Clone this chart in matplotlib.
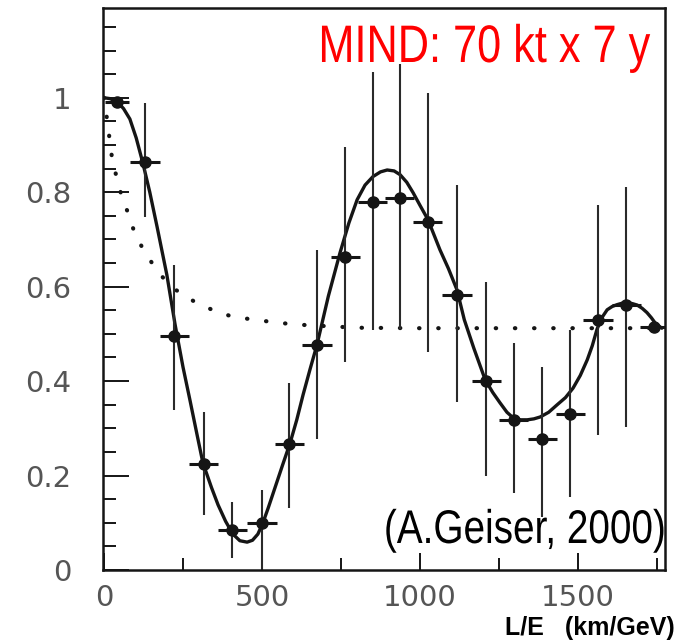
import matplotlib
matplotlib.use("Agg")
import matplotlib.pyplot as plt
from matplotlib import patheffects
from matplotlib.transforms import Affine2D
from matplotlib.ticker import MultipleLocator

# ---- data ----
x_data = [40, 130, 222, 316, 406, 500, 587, 674, 763, 851, 936, 1025, 1117, 1209,
          1297, 1386, 1475, 1563, 1652, 1741]
y_data = [0.99, 0.864, 0.496, 0.225, 0.085, 0.10, 0.267, 0.477, 0.663, 0.78, 0.788,
          0.737, 0.583, 0.40, 0.318, 0.278, 0.33, 0.53, 0.561, 0.515]
x_err = [38, 46, 46, 46, 46, 46, 46, 46, 46, 46, 46, 46, 46, 46, 46, 46, 46, 46, 46, 46]
y_err_hi = [0.01, 0.125, 0.15, 0.11, 0.06, 0.07, 0.13, 0.2, 0.233, 0.275, 0.284, 0.274,
            0.233, 0.21, 0.163, 0.152, 0.178, 0.243, 0.25, 0.0]
y_err_lo = [0.01, 0.116, 0.157, 0.108, 0.06, 0.10, 0.136, 0.2, 0.223, 0.272, 0.278, 0.275,
            0.227, 0.2, 0.155, 0.166, 0.175, 0.244, 0.258, 0.0]

curve_x = [0, 20, 44, 62, 82, 102, 123, 145, 168, 199, 225, 250, 272, 295, 313, 340,
           361, 385, 408, 430, 453, 470, 487, 503, 520, 541, 565, 589, 610, 630, 652,
           674, 710, 747, 775, 801, 826, 851, 875, 896, 918, 937, 958, 978, 1000, 1025,
           1063, 1090, 1117, 1140, 1170, 1206, 1230, 1253, 1275, 1295, 1318, 1339, 1360,
           1380, 1407, 1434, 1460, 1484, 1507, 1529, 1545, 1560, 1576, 1592, 1608, 1624,
           1640, 1655, 1672, 1687, 1703, 1718, 1732, 1745, 1765]
curve_y = [1.0, 0.998, 0.99, 0.977, 0.955, 0.915, 0.862, 0.80, 0.727, 0.625, 0.52, 0.43,
           0.36, 0.285, 0.227, 0.175, 0.138, 0.103, 0.076, 0.062, 0.059, 0.063, 0.076,
           0.1, 0.132, 0.174, 0.222, 0.269, 0.318, 0.371, 0.425, 0.477, 0.58, 0.672,
           0.735, 0.784, 0.815, 0.833, 0.843, 0.847, 0.845, 0.837, 0.821, 0.799, 0.772,
           0.742, 0.678, 0.638, 0.593, 0.53, 0.47, 0.403, 0.376, 0.354, 0.334, 0.322,
           0.318, 0.318, 0.32, 0.324, 0.334, 0.35, 0.365, 0.385, 0.412, 0.445, 0.475,
           0.51, 0.535, 0.551, 0.558, 0.562, 0.565, 0.566, 0.564, 0.561, 0.554, 0.545,
           0.534, 0.522, 0.512]

avg_x = [0, 9, 25, 38, 53, 76, 93, 120, 152, 187, 230, 282, 342, 399, 472, 600, 800,
         1000, 1765]
avg_y = [1.0, 0.958, 0.875, 0.837, 0.799, 0.756, 0.722, 0.684, 0.65, 0.619, 0.592, 0.57,
         0.551, 0.538, 0.53, 0.52, 0.513, 0.512, 0.512]

x_ticks = [0, 500, 1000, 1500]
y_ticks = [0, 0.2, 0.4, 0.6, 0.8, 1]
y_tick_labels = ["0", "0.2", "0.4", "0.6", "0.8", "1"]


class Condense(patheffects.AbstractPathEffect):
    """Squeeze text glyphs horizontally around a fixed anchor (display px)."""

    def __init__(self, sx, anchor_px):
        super().__init__()
        self.sx = sx
        self.anchor = anchor_px

    def draw_path(self, renderer, gc, tpath, affine, rgbFace=None):
        squeeze = (Affine2D().translate(-self.anchor, 0)
                   .scale(self.sx, 1).translate(self.anchor, 0))
        renderer.draw_path(gc, tpath, affine + squeeze, rgbFace)


W, H = 676, 640
fig = plt.figure(figsize=(W / 100, H / 100), dpi=100)
ax = fig.add_axes([103 / W, 1 - 570 / H, (665 - 103) / W, (570 - 8) / H])

ink = "#151515"
ax.plot(avg_x, avg_y, linestyle=(0, (0.1, 4.5)), linewidth=3.0,
        dash_capstyle="round", color=ink)
ax.plot(curve_x, curve_y, color=ink, linewidth=2.4, solid_capstyle="round")
ax.errorbar(x_data, y_data, yerr=[y_err_lo, y_err_hi], fmt="none",
            ecolor="#2a2a2a", elinewidth=1.5, capsize=0)
ax.errorbar(x_data, y_data, xerr=x_err, fmt="o", color=ink, ecolor=ink,
            elinewidth=2.2, capsize=0, markersize=8)

ax.set_xlim(-3, 1775)
ax.set_ylim(0, 1.19)
ax.set_xticks(x_ticks)
ax.set_yticks(y_ticks)
ax.set_yticklabels(y_tick_labels)
ax.xaxis.set_minor_locator(MultipleLocator(250))
ax.yaxis.set_minor_locator(MultipleLocator(0.05))
ax.tick_params(axis="both", which="both", direction="in", colors=ink,
               labelcolor="#555555", labelsize=21)
ax.tick_params(axis="y", which="major", length=19, width=1.4, pad=23)
ax.tick_params(axis="y", which="minor", length=9, width=1.4)
ax.tick_params(axis="x", which="major", length=12, width=1.4, pad=10)
ax.tick_params(axis="x", which="minor", length=9, width=1.4)
for lab in ax.get_xticklabels() + ax.get_yticklabels():
    lab.set_family("DejaVu Sans")
for s in ax.spines.values():
    s.set_linewidth(1.8)
    s.set_color(ink)

fig.text(650 / W, 1 - 62 / H, "MIND: 70 kt x 7 y", color="#ff0000",
         fontsize=38, family="Liberation Sans", ha="right", va="baseline",
         path_effects=[Condense(0.82, 650)])
fig.text(666 / W, 1 - 543 / H, "(A.Geiser, 2000)", color="black",
         fontsize=34, family="Liberation Sans", ha="right", va="baseline",
         path_effects=[Condense(0.82, 666)])
fig.text(675 / W, 1 - 635 / H, "L/E   (km/GeV)", color="black",
         fontsize=18, family="Liberation Sans", fontweight="bold",
         ha="right", va="baseline")

fig.savefig("out.png", dpi=100)
